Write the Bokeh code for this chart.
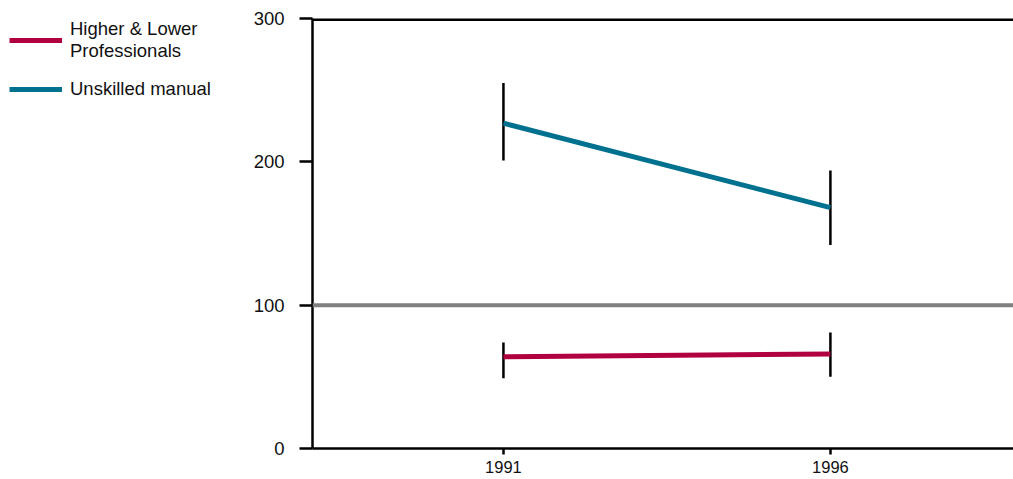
from bokeh.plotting import figure
from bokeh.layouts import row
from bokeh.models import (ColumnDataSource, Span, FixedTicker, Legend, LegendItem,
                          Range1d, Whisker)
from bokeh.embed import file_html
from bokeh.resources import INLINE

# Standardised ratios by social class, with confidence intervals
years = [1991, 1996]
prof_values = [64, 66]
prof_lower = [49, 50]
prof_upper = [74, 81]
manual_values = [227, 168]
manual_lower = [201, 142]
manual_upper = [255, 194]
y_ticks = [0, 100, 200, 300]
series_names = ["Higher & Lower\nProfessionals", "Unskilled manual"]

RED = "#b0003f"
BLUE = "#00718f"
FONT = "Liberation Sans"

p = figure(width=763, height=479, output_backend="svg", toolbar_location=None,
           x_range=Range1d(1988.08, 1998.8), y_range=Range1d(0, 300),
           min_border_left=58, min_border_right=0, min_border_top=18,
           min_border_bottom=31)
p.outline_line_color = None
p.xgrid.visible = False
p.ygrid.visible = False
p.background_fill_color = "white"
p.border_fill_color = "white"

for ax in (p.xaxis[0], p.yaxis[0]):
    ax.axis_line_width = 2.5
    ax.axis_line_color = "black"
    ax.major_tick_line_color = "black"
    ax.major_tick_line_width = 2.5
    ax.minor_tick_line_color = None
    ax.major_label_text_font = FONT
    ax.major_label_text_color = "#111111"

p.yaxis.ticker = FixedTicker(ticks=y_ticks)
p.yaxis.major_tick_out = 13
p.yaxis.major_tick_in = 0
p.yaxis.major_label_standoff = 15
p.yaxis.major_label_text_font_size = "18.5px"
p.xaxis.ticker = FixedTicker(ticks=years)
p.xaxis.major_tick_out = 6
p.xaxis.major_tick_in = 0
p.xaxis.major_label_standoff = 6
p.xaxis.major_label_text_font_size = "16.5px"

# top border at the axis maximum and the reference line at 100
p.add_layout(Span(location=300, dimension="width", line_color="black", line_width=5))
p.add_layout(Span(location=100, dimension="width", line_color="#808080", line_width=4))

prof_src = ColumnDataSource(dict(x=years, y=prof_values, lo=prof_lower, hi=prof_upper))
manual_src = ColumnDataSource(dict(x=years, y=manual_values, lo=manual_lower, hi=manual_upper))

p.line("x", "y", source=prof_src, line_color=RED, line_width=5)
p.line("x", "y", source=manual_src, line_color=BLUE, line_width=5)

for src in (prof_src, manual_src):
    w = Whisker(base="x", lower="lo", upper="hi", source=src, dimension="height",
                line_color="black", line_width=2.5)
    w.upper_head = None
    w.lower_head = None
    p.add_layout(w)

# legend panel on the left, keyed by hidden copies of the two series
lg = figure(width=250, height=479, output_backend="svg", toolbar_location=None,
            min_border=0, x_axis_type=None, y_axis_type=None)
lg.outline_line_color = None
lg.xgrid.visible = False
lg.ygrid.visible = False
k_prof = lg.line("x", "y", source=prof_src, line_color=RED, line_width=5, visible=False)
k_manual = lg.line("x", "y", source=manual_src, line_color=BLUE, line_width=5, visible=False)

legend = Legend(items=[
    LegendItem(label=series_names[0], renderers=[k_prof]),
    LegendItem(label=series_names[1], renderers=[k_manual]),
], location=(9, 348), orientation="vertical",
    glyph_width=53, glyph_height=20, label_standoff=8, spacing=16, padding=0,
    margin=0, border_line_color=None, background_fill_alpha=0,
    label_text_font=FONT, label_text_font_size="18.5px", label_text_color="#111111",
    label_text_line_height=1.4)
lg.add_layout(legend, "center")

layout = row(lg, p, spacing=0)
open("out.html", "w").write(file_html(layout, INLINE))
